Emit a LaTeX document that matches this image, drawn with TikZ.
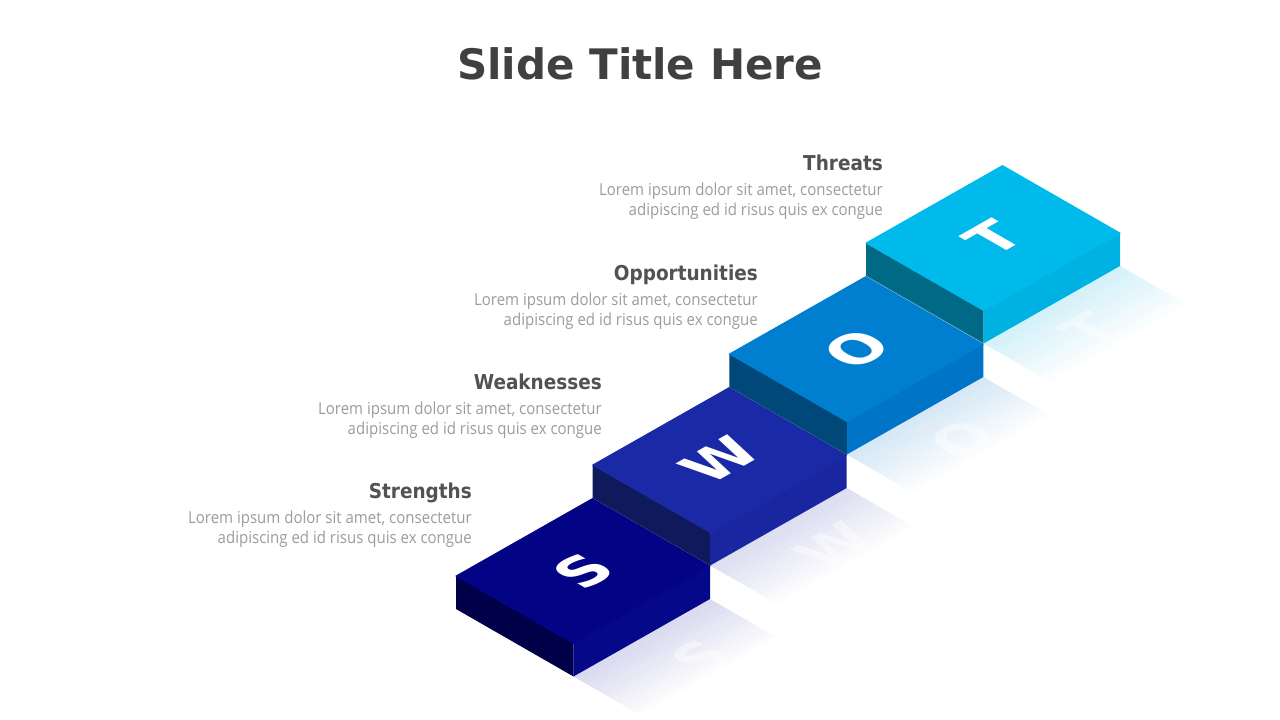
\documentclass[tikz,border=0pt]{standalone}
\usepackage{fontspec}
\setmainfont{Open Sans}[FakeStretch=0.91]
\newfontfamily\headfont{DejaVu Sans Condensed}
\newfontfamily\titlefont{DejaVu Sans}
\newfontfamily\letterfont{DejaVu Sans}
\usetikzlibrary{calc}
\definecolor{titlegray}{HTML}{404040}
\definecolor{headgray}{HTML}{525252}
\definecolor{bodygray}{HTML}{9C9C9C}
\definecolor{sTop}{HTML}{030385}
\definecolor{sLeft}{HTML}{000048}
\definecolor{sRight}{HTML}{06088A}
\definecolor{sShadow}{HTML}{DADAF0}
\definecolor{wTop}{HTML}{1A29A6}
\definecolor{wLeft}{HTML}{0E1A5C}
\definecolor{wRight}{HTML}{1926A0}
\definecolor{wShadow}{HTML}{DCDEF2}
\definecolor{oTop}{HTML}{007FD1}
\definecolor{oLeft}{HTML}{004878}
\definecolor{oRight}{HTML}{0075C8}
\definecolor{oShadow}{HTML}{D6E8F6}
\definecolor{tTop}{HTML}{00BAEB}
\definecolor{tLeft}{HTML}{006A86}
\definecolor{tRight}{HTML}{00B2E1}
\definecolor{tShadow}{HTML}{D4F1FA}
\tikzset{
  titlestyle/.style={font=\titlefont\bfseries\fontsize{42}{48}\selectfont, text=titlegray, inner sep=0pt},
  headstyle/.style={font=\headfont\bfseries\fontsize{20.5}{24}\selectfont, text=headgray, inner sep=0pt, anchor=base east},
  bodystyle/.style={font=\fontsize{16.5}{20}\selectfont, text=bodygray, inner sep=0pt, anchor=base east},
  letterstyle/.style={font=\letterfont\bfseries\fontsize{57}{57}\selectfont, text=white, inner sep=0pt,
     transform shape, cm={0.8696,0.4937,-0.8671,0.4981,(0,0)}},
  ghoststyle/.style={letterstyle, opacity=0.45},
}
\newcommand\swotshadow[2]{% name, colour
  \foreach \i in {0,...,13} {
    \pgfmathsetmacro\ta{\i/14}
    \pgfmathsetmacro\tb{(\i+1)/14}
    \pgfmathsetmacro\op{1-\i/14}
    \fill[#2, opacity=\op]
      ($(#1Bd)+(\ta*66,\ta*38)$) -- ($(#1Rd)+(\ta*66,\ta*38)$) --
      ($(#1Rd)+(\tb*66,\tb*38)$) -- ($(#1Bd)+(\tb*66,\tb*38)$) -- cycle;
  }
}
\newcommand\swotcorners[3]{% name, x, y
  \coordinate (#1L) at (#2,#3);
  \coordinate (#1T) at ($(#1L)+(136.5,-77.5)$);
  \coordinate (#1R) at ($(#1L)+(254,-10)$);
  \coordinate (#1B) at ($(#1L)+(117.5,67.5)$);
  \coordinate (#1Ld) at ($(#1L)+(0,33)$);
  \coordinate (#1Bd) at ($(#1B)+(0,33)$);
  \coordinate (#1Rd) at ($(#1R)+(0,33)$);
}
\newcommand\swotblock[5]{% name, top, left, right, letter
  \fill[#3] (#1L) -- (#1B) -- (#1Bd) -- (#1Ld) -- cycle;
  \fill[#4] (#1B) -- (#1R) -- (#1Rd) -- (#1Bd) -- cycle;
  \filldraw[fill=#2, draw=#2, line width=0.8pt, line join=miter] (#1L) -- (#1T) -- (#1R) -- (#1B) -- cycle;
  \node[letterstyle] (#1letter) at ($(#1L)!0.5!(#1R)$) {#5};
}
\begin{document}
\begin{tikzpicture}[x=1pt,y=-1pt]
\useasboundingbox (0,0) rectangle (1280,720);
\fill[white] (0,0) rectangle (1280,720);

\node[titlestyle, anchor=base] (title) at (640,79.5) {Slide Title Here};

\swotcorners{s}{456}{576}
\swotcorners{w}{592.67}{465}
\swotcorners{o}{729.33}{354}
\swotcorners{t}{866}{243}

\swotshadow{s}{sShadow}
\swotshadow{w}{wShadow}
\swotshadow{o}{oShadow}
\swotshadow{t}{tShadow}

\node[ghoststyle] (sghost) at ($(sL)!0.5!(sR)+(118,86)$) {S};
\node[ghoststyle] (wghost) at ($(wL)!0.5!(wR)+(114,86)$) {W};
\node[ghoststyle] (oghost) at ($(oL)!0.5!(oR)+(106,90)$) {O};
\node[ghoststyle] (tghost) at ($(tL)!0.5!(tR)+(96,92)$) {T};

\swotblock{s}{sTop}{sLeft}{sRight}{S}
\swotblock{w}{wTop}{wLeft}{wRight}{W}
\swotblock{o}{oTop}{oLeft}{oRight}{O}
\swotblock{t}{tTop}{tLeft}{tRight}{T}
\draw[white, opacity=0.4, line width=0.5pt] (tLd) -- (tBd);

\node[headstyle] (thrH) at (883,170) {Threats};
\node[bodystyle] (thrB1) at (883,195) {Lorem ipsum dolor sit amet, consectetur};
\node[bodystyle] (thrB2) at (883,215) {adipiscing ed id risus quis ex congue};

\node[headstyle] (oppH) at (758,280) {Opportunities};
\node[bodystyle] (oppB1) at (758,305) {Lorem ipsum dolor sit amet, consectetur};
\node[bodystyle] (oppB2) at (758,325) {adipiscing ed id risus quis ex congue};

\node[headstyle] (weaH) at (602,389) {Weaknesses};
\node[bodystyle] (weaB1) at (602,414) {Lorem ipsum dolor sit amet, consectetur};
\node[bodystyle] (weaB2) at (602,434) {adipiscing ed id risus quis ex congue};

\node[headstyle] (strH) at (472,498) {Strengths};
\node[bodystyle] (strB1) at (472,523) {Lorem ipsum dolor sit amet, consectetur};
\node[bodystyle] (strB2) at (472,543) {adipiscing ed id risus quis ex congue};
\end{tikzpicture}
\end{document}
